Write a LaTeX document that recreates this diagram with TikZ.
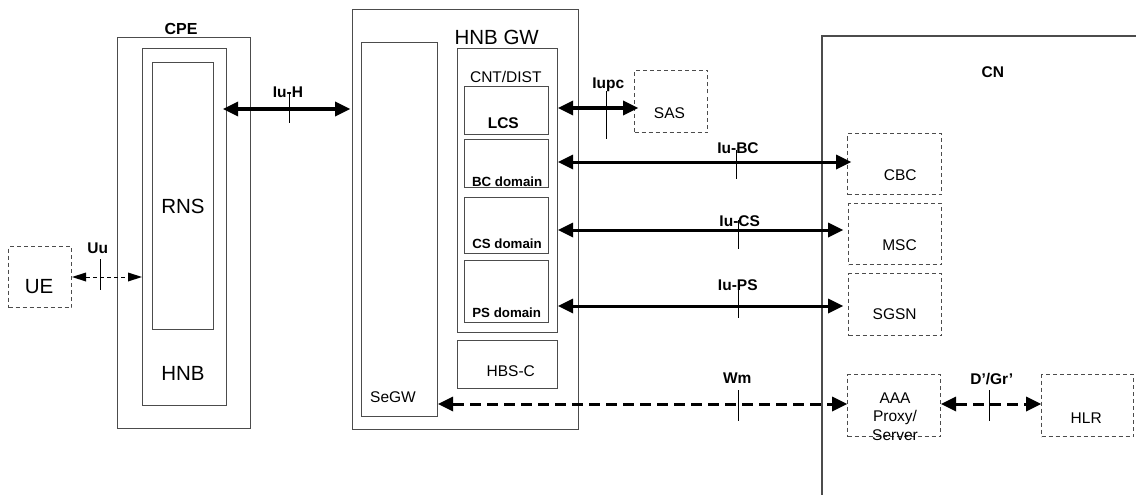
\documentclass[tikz,border=0pt]{standalone}
\usepackage{fontspec}
\setmainfont{Liberation Sans}
\usetikzlibrary{arrows.meta}
\begin{document}
\begin{tikzpicture}[x=1pt,y=-1pt,
  box/.style={draw=black!70, line width=1.1pt, inner sep=0pt, anchor=north west},
  dbox/.style={box, dash pattern=on 4pt off 3pt, line width=1pt},
  big/.style={font=\fontsize{20.5}{24}\selectfont, inner sep=0pt, anchor=base},
  txt/.style={font=\fontsize{15.5}{18.7}\selectfont, inner sep=0pt, anchor=base},
  lbl/.style={font=\fontsize{15.5}{18.7}\selectfont\bfseries, inner sep=0pt, anchor=base},
  dom/.style={font=\fontsize{13.3}{16}\selectfont\bfseries, inner sep=0pt, anchor=base},
  tipA/.tip={Triangle[length=15pt,width=15pt,line width=0pt]},
  link/.style={line width=3pt, tipA-tipA},
  dlink/.style={link, dash pattern=on 11pt off 6pt},
  ulink/.style={line width=1pt, dash pattern=on 4pt off 3pt,
    {Triangle[length=14pt,width=9pt,line width=0pt]}-{Triangle[length=14pt,width=9pt,line width=0pt]}},
  tick/.style={line width=1pt},
]
\useasboundingbox (0,0) rectangle (1136,495);

% ---- CPE / HNB ----
\node[box, minimum width=133pt, minimum height=391pt] (cpe) at (117,37) {};
\node[box, minimum width=84pt, minimum height=357pt] (hnb) at (142,48) {};
\node[box, minimum width=61pt, minimum height=267pt] (rns) at (152,62) {};
\node[lbl, font=\fontsize{16}{19}\selectfont\bfseries] (cpet) at (181,35) {CPE};
\node[big] (rnst) at (183,213) {RNS};
\node[big] (hnbt) at (183,380) {HNB};

% ---- UE ----
\node[dbox, minimum width=63pt, minimum height=61pt] (ue) at (8,246) {};
\node[big] (uet) at (39,293) {UE};

% ---- HNB GW ----
\node[box, minimum width=226pt, minimum height=420pt] (gw) at (352,9) {};
\node[box, minimum width=76pt, minimum height=374pt] (segw) at (361,42) {};
\node[box, minimum width=100pt, minimum height=284pt] (cnt) at (457,48) {};
\node[box, minimum width=84pt, minimum height=48pt] (lcs) at (464,86) {};
\node[box, minimum width=84pt, minimum height=48pt] (bc) at (464,139) {};
\node[box, minimum width=84pt, minimum height=56pt] (cs) at (464,197) {};
\node[box, minimum width=84pt, minimum height=62pt] (ps) at (464,260) {};
\node[box, minimum width=100pt, minimum height=48pt] (hbsc) at (457,340) {};
\node[big] (gwt) at (496.7,45) {HNB GW};
\node[txt] (cntt) at (505.8,82.7) {CNT/DIST};
\node[lbl] (lcst) at (503.3,128.3) {LCS};
\node[dom] (bct) at (507.2,186.7) {BC domain};
\node[dom] (cst) at (507,248.3) {CS domain};
\node[dom] (pst) at (506.7,317.3) {PS domain};
\node[txt] (hbsct) at (510.8,376) {HBS-C};
\node[txt] (segwt) at (393,402.3) {SeGW};

% ---- SAS ----
\node[dbox, minimum width=73pt, minimum height=62pt] (sas) at (634,70) {};
\node[txt] (sast) at (669.5,118.3) {SAS};

% ---- CN ----
\draw[draw=black!70, line width=1.2pt] (822,495) -- (822,36) -- (1136,36);
\node[lbl] (cnt2) at (992.8,77.3) {CN};
\node[dbox, minimum width=94pt, minimum height=61pt] (cbc) at (847,133) {};
\node[dbox, minimum width=93pt, minimum height=61pt] (msc) at (848,203) {};
\node[dbox, minimum width=93pt, minimum height=62pt] (sgsn) at (848,273) {};
\node[dbox, minimum width=93pt, minimum height=62pt] (aaa) at (847,374) {};
\node[dbox, minimum width=92pt, minimum height=62pt] (hlr) at (1041,374) {};
\node[txt] (cbct) at (900.3,180.7) {CBC};
\node[txt] (msct) at (899.5,250) {MSC};
\node[txt] (sgsnt) at (894.7,319.3) {SGSN};
\node[txt, anchor=north, align=center] (aaat) at (895,392.2) {AAA\\Proxy/\\Server};
\node[txt] (hlrt) at (1086.2,423.3) {HLR};

% ---- connectors ----
\draw[ulink] (ue.east |- 0,277) -- (hnb.west |- 0,277);
\draw[link] ([xshift=-4pt]hnb.east |- 0,109) -- ([xshift=-2pt]gw.west |- 0,109);
\draw[link] (cnt.east |- 0,108) -- ([xshift=4pt]sas.west |- 0,108);
\draw[link] (cnt.east |- 0,162) -- ([xshift=4pt]cbc.west |- 0,162);
\draw[link] (cnt.east |- 0,230) -- ([xshift=-5pt]msc.west |- 0,230);
\draw[link] (cnt.east |- 0,306) -- ([xshift=-5pt]sgsn.west |- 0,306);
\draw[dlink] (segw.east |- 0,404) -- (aaa.west |- 0,404);
\draw[dlink] (aaa.east |- 0,404) -- (hlr.west |- 0,404);

% ---- interface ticks and labels ----
\draw[tick] (100,259) -- (100,290);
\draw[tick] (289,92) -- (289,123);
\draw[tick] (606,91) -- (606,139);
\draw[tick] (736,150) -- (736,179);
\draw[tick] (738,220) -- (738,249);
\draw[tick] (738,285) -- (738,318);
\draw[tick] (738,390) -- (738,421);
\draw[tick] (989,390) -- (989,421);
\node[lbl] (uul) at (97.7,253) {Uu};
\node[lbl] (iuhl) at (288,97.7) {Iu-H};
\node[lbl] (iupcl) at (608.3,88.5) {Iupc};
\node[lbl] (iubcl) at (738,153.3) {Iu-BC};
\node[lbl] (iucsl) at (739.7,226) {Iu-CS};
\node[lbl] (iupsl) at (737.8,290) {Iu-PS};
\node[lbl] (wml) at (737.2,383.3) {Wm};
\node[lbl] (dgrl) at (991.7,384) {D’/Gr’};
\end{tikzpicture}
\end{document}
